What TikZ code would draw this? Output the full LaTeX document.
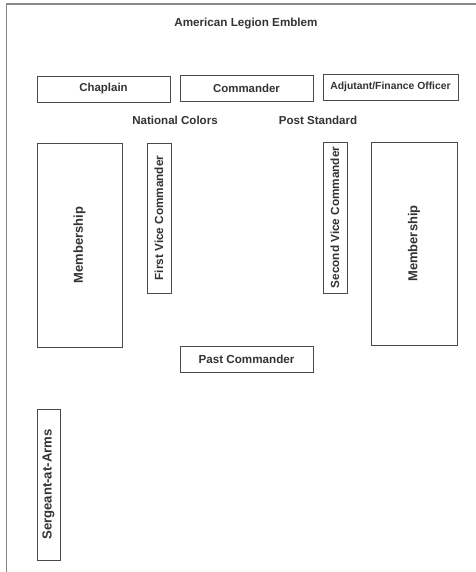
\documentclass[tikz,border=0pt]{standalone}
\usepackage{fontspec}
\setmainfont{Liberation Sans}
\definecolor{ink}{HTML}{333333}
\definecolor{edge}{HTML}{4A4A4A}
\definecolor{frame}{HTML}{888888}
\begin{document}
\begin{tikzpicture}[x=1bp,y=-1bp,
  box/.style={draw=edge,line width=0.9bp,rectangle,inner sep=0pt,text=ink,font=\bfseries\fontsize{11.5}{13}\selectfont},
  vbox/.style={box,rotate=90},
  lbl/.style={inner sep=0pt,text=ink,font=\bfseries\fontsize{11.6}{13}\selectfont}]
\useasboundingbox (0,0) rectangle (476,572);
\fill[white] (0,0) rectangle (476,572);
% page frame (top and left edges)
\coordinate (ftl) at (6.5,4);
\coordinate (ftr) at (476,4);
\coordinate (fbl) at (6.5,572);
\draw[frame,line width=1.3bp] (ftr) -- (ftl) -- (fbl);
% title and free labels
\node[lbl,font=\bfseries\fontsize{11.7}{13}\selectfont] (title) at (246,24) {American Legion Emblem};
\node[lbl] (colors) at (175,120) {National Colors};
\node[lbl] (standard) at (318,120) {Post Standard};
% top row
\node[box,minimum width=133bp,minimum height=26bp] (chaplain) at (103.5,89) {Chaplain};
\node[box,minimum width=133bp,minimum height=26bp] (commander) at (246.5,88) {Commander};
\node[box,minimum width=135bp,minimum height=26bp,font=\bfseries\fontsize{10.4}{12}\selectfont] (adjutant) at (390.5,87) {Adjutant/Finance Officer};
% vertical boxes
\node[vbox,minimum width=204bp,minimum height=85bp,font=\bfseries\fontsize{13}{15}\selectfont] (memleft) at (79.5,245) {Membership};
\node[vbox,minimum width=150bp,minimum height=24bp,font=\bfseries\fontsize{11.8}{13}\selectfont] (firstvice) at (159,218) {First Vice Commander};
\node[vbox,minimum width=151bp,minimum height=24bp,font=\bfseries\fontsize{11.8}{13}\selectfont] (secondvice) at (335,217.5) {Second Vice Commander};
\node[vbox,minimum width=203bp,minimum height=86bp,font=\bfseries\fontsize{13}{15}\selectfont] (memright) at (414,243.5) {Membership};
% past commander
\node[box,minimum width=133bp,minimum height=26bp,font=\bfseries\fontsize{11.7}{13}\selectfont] (past) at (246.5,359) {Past Commander};
% sergeant-at-arms
\node[vbox,minimum width=151bp,minimum height=23bp,font=\bfseries\fontsize{13.2}{15}\selectfont] (sergeant) at (48.5,484.5) {Sergeant-at-Arms};
\end{tikzpicture}
\end{document}
